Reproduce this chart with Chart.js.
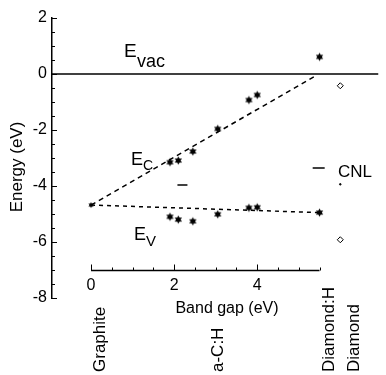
<!DOCTYPE html>
<html>
<head>
<meta charset="utf-8">
<script src="https://cdn.jsdelivr.net/npm/chart.js@4"></script>
<style>
  html, body { margin: 0; padding: 0; background: #fff; }
  #wrap { width: 386px; height: 375px; }
</style>
</head>
<body>
<div id="wrap"><canvas id="bandChart" width="386" height="375"></canvas></div>
<script>
// values (band gap in eV, energy in eV)
const ecGap = [1.9, 2.1, 2.45, 3.05, 3.8, 4.0, 5.5];
const ecEnergy = [-3.15, -3.09, -2.77, -1.96, -0.93, -0.75, 0.61];
const evGap = [1.9, 2.1, 2.45, 3.05, 3.8, 4.0, 5.5];
const evEnergy = [-5.10, -5.20, -5.26, -5.01, -4.78, -4.76, -4.95];
const graphiteGap = [0];
const graphiteEnergy = [-4.68];
const diamondGap = [6.0, 6.0];
const diamondEnergy = [-0.42, -5.92];
const cnlGap = [2.2, 6.0];
const cnlEnergy = [-3.96, -3.94];
const ecFitGap = [0, 5.4];
const ecFitEnergy = [-4.68, -0.07];
const evFitGap = [0, 5.5];
const evFitEnergy = [-4.68, -4.95];
const vacEnergy = 0;
const xTicks = [0, 2, 4];
const materials = ['Graphite', 'a-C:H', 'Diamond:H', 'Diamond'];

const FONT = "'Liberation Sans', Arial, Helvetica, sans-serif";
const pts = (xs, ys) => xs.map((x, i) => ({ x, y: ys[i] }));

function starImage(outer, inner) {
    const s = Math.ceil(outer * 2 + 2);
    const c = document.createElement('canvas');
    c.width = s; c.height = s;
    const g = c.getContext('2d');
    g.fillStyle = '#000';
    g.beginPath();
    for (let i = 0; i < 12; i++) {
        const r = i % 2 ? inner : outer;
        const a = -Math.PI / 2 + i * Math.PI / 6;
        g.lineTo(s / 2 + r * Math.cos(a), s / 2 + r * Math.sin(a));
    }
    g.closePath();
    g.fill();
    return c;
}
const bigStar = starImage(4.2, 2.3);
const smallStar = starImage(3, 1.6);

// floating x axis, inward ticks and the text annotations
const annotations = {
    id: 'annotations',
    afterDatasetsDraw(chart) {
        const { ctx, scales: { x, y }, chartArea } = chart;
        ctx.save();
        ctx.strokeStyle = '#000';
        ctx.fillStyle = '#000';

        // inward minor ticks on the energy axis
        ctx.lineWidth = 1;
        for (let v = -8; v <= 2; v += 0.5) {
            const py = Math.round(y.getPixelForValue(v)) + 0.5;
            const len = v % 2 === 0 ? 5 : 3;
            ctx.beginPath();
            ctx.moveTo(chartArea.left, py);
            ctx.lineTo(chartArea.left + len, py);
            ctx.stroke();
        }

        // band gap axis floating at -7 eV, from 0 to 5.5 eV
        const ay = Math.round(y.getPixelForValue(-7)) + 0.5;
        ctx.lineWidth = 1.5;
        ctx.beginPath();
        ctx.moveTo(x.getPixelForValue(0), ay);
        ctx.lineTo(x.getPixelForValue(5.5), ay);
        ctx.stroke();
        ctx.lineWidth = 1;
        for (let v = 0; v <= 5.5; v += 0.5) {
            const px = Math.round(x.getPixelForValue(v)) + 0.5;
            const len = v % 2 === 0 ? 6 : 3;
            ctx.beginPath();
            ctx.moveTo(px, ay);
            ctx.lineTo(px, ay - len);
            ctx.stroke();
        }
        ctx.font = `16px ${FONT}`;
        ctx.textAlign = 'center';
        ctx.textBaseline = 'alphabetic';
        xTicks.forEach(v => ctx.fillText(String(v), x.getPixelForValue(v), 290));
        ctx.fillText('Band gap (eV)', 227, 313);

        // level labels
        ctx.textAlign = 'left';
        ctx.font = `19px ${FONT}`;
        ctx.fillText('E', 124, 57);
        ctx.font = `18px ${FONT}`;
        ctx.fillText('vac', 137, 67);

        ctx.font = `18px ${FONT}`;
        ctx.fillText('E', 131, 165);
        ctx.font = `14px ${FONT}`;
        ctx.fillText('C', 143, 170);

        ctx.font = `18px ${FONT}`;
        ctx.fillText('E', 134, 240);
        ctx.font = `15px ${FONT}`;
        ctx.fillText('V', 146, 246);

        ctx.font = `17px ${FONT}`;
        ctx.fillText('CNL', 338, 177);

        // energy axis title
        ctx.save();
        ctx.translate(17, 167);
        ctx.rotate(-Math.PI / 2);
        ctx.textAlign = 'center';
        ctx.textBaseline = 'middle';
        ctx.font = `17px ${FONT}`;
        ctx.fillText('Energy (eV)', 0, 0);
        ctx.restore();

        // material names, vertical
        const baseX = [105, 223, 334, 359];
        materials.forEach((m, i) => {
            ctx.save();
            ctx.translate(baseX[i], 372);
            ctx.rotate(-Math.PI / 2);
            ctx.textAlign = 'left';
            ctx.font = `17px ${FONT}`;
            ctx.fillText(m, 0, 0);
            ctx.restore();
        });
        ctx.restore();
    }
};

const line = (data, dash) => ({
    data, showLine: true, borderColor: '#000', borderWidth: 1.5,
    borderDash: dash, pointRadius: 0, fill: false
});

new Chart(document.getElementById('bandChart'), {
    type: 'scatter',
    plugins: [annotations],
    data: {
        datasets: [
            line([{ x: -0.94, y: vacEnergy }, { x: 6.92, y: vacEnergy }], []),
            line(pts(ecFitGap, ecFitEnergy), [5, 4]),
            line(pts(evFitGap, evFitEnergy), [4, 4]),
            {
                label: 'Ec',
                data: pts(ecGap, ecEnergy),
                pointStyle: bigStar,
                pointRadius: 4
            },
            {
                label: 'Ev',
                data: pts(evGap, evEnergy),
                pointStyle: bigStar,
                pointRadius: 4
            },
            {
                label: 'Graphite',
                data: pts(graphiteGap, graphiteEnergy),
                pointStyle: smallStar,
                pointRadius: 3
            },
            {
                label: 'Diamond',
                data: pts(diamondGap, diamondEnergy),
                pointStyle: 'rectRot',
                pointRadius: 3,
                backgroundColor: '#fff',
                borderColor: '#000',
                borderWidth: 1
            },
            {
                label: 'CNL',
                data: pts(cnlGap, cnlEnergy),
                pointStyle: ['line', 'circle'],
                pointRadius: [5, 0.8],
                backgroundColor: '#000',
                borderColor: '#000',
                borderWidth: [1.5, 1]
            },
            {
                label: 'CNL key',
                data: [{ x: 5.48, y: -3.36 }],
                pointStyle: 'line',
                pointRadius: 6,
                borderColor: '#000',
                borderWidth: 1.5
            }
        ]
    },
    options: {
        responsive: false,
        animation: false,
        events: [],
        layout: { padding: { top: 18, right: 0, bottom: 77, left: 0 } },
        plugins: {
            legend: { display: false },
            tooltip: { enabled: false }
        },
        scales: {
            x: { type: 'linear', min: -0.94, max: 6.92, display: false },
            y: {
                min: -8,
                max: 2,
                ticks: {
                    stepSize: 2,
                    color: '#000',
                    padding: 5,
                    font: { family: FONT, size: 16 }
                },
                grid: { display: false, drawTicks: false },
                border: { display: true, color: '#000', width: 1.5 },
                afterFit(scale) { scale.width = 52; }
            }
        }
    }
});
</script>
</body>
</html>
